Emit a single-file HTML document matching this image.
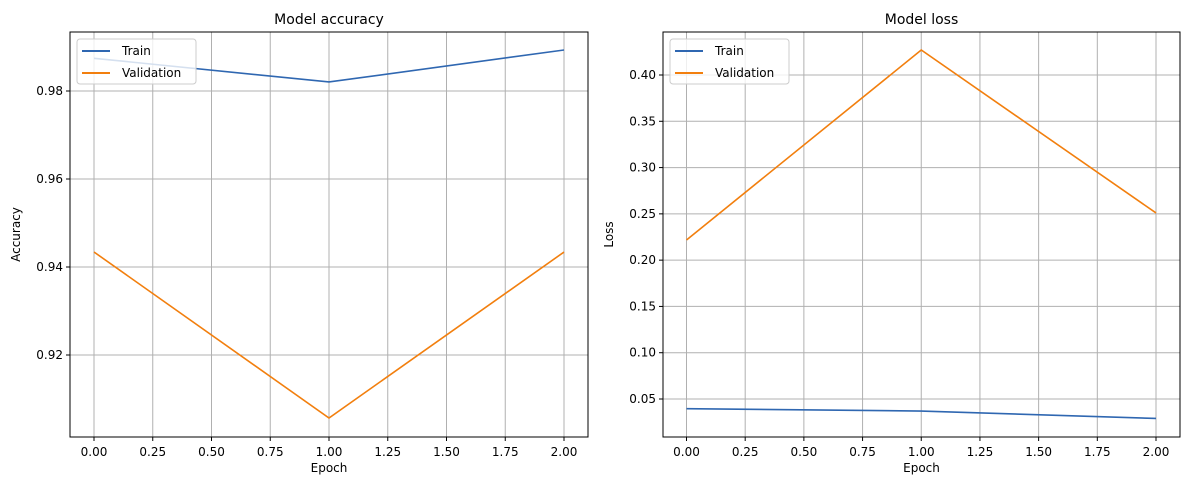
<!DOCTYPE html>
<html><head><meta charset="utf-8"><style>
body{margin:0;background:#fff}
svg text{font-family:"DejaVu Sans","Liberation Sans",sans-serif;fill:#000}
</style></head><body>
<svg id="c" width="1188" height="490"></svg>
<script>
const epochs=[0,1,2];
const accTrain=[0.98743,0.98205,0.98932];
const accVal=[0.94341,0.90568,0.9434];
const lossTrain=[0.0395,0.037,0.029];
const lossVal=[0.2218,0.427,0.251];
const xTicks=[0,0.25,0.5,0.75,1,1.25,1.5,1.75,2];
const accTicks=[0.92,0.94,0.96,0.98];
const lossTicks=[0.05,0.10,0.15,0.20,0.25,0.30,0.35,0.40];
const NS="http://www.w3.org/2000/svg";
const svg=document.getElementById('c');
function el(t,a,p){const e=document.createElementNS(NS,t);for(const k in a)e.setAttribute(k,a[k]);(p||svg).appendChild(e);return e;}
function panel(o){
  const g=el('g',{});
  
  
  const X=v=>o.x0+(v-0)*(o.x2-o.x0)/2;
  const Y=o.Y;
  xTicks.forEach(t=>{
    const l=el('line',{x1:X(t),x2:X(t),y1:o.top,y2:o.bot,stroke:'#b0b0b0','stroke-width':1},g);
    
    el('line',{x1:X(t),x2:X(t),y1:o.bot,y2:o.bot+4,stroke:'#000'},g);
    const tx=el('text',{x:X(t),y:o.bot+19,'text-anchor':'middle','font-size':12},g);
    tx.textContent=t.toFixed(2);
    
  });
  o.yTicks.forEach(t=>{
    el('line',{x1:o.left,x2:o.right,y1:Y(t),y2:Y(t),stroke:'#b0b0b0'},g);
    el('line',{x1:o.left-4,x2:o.left,y1:Y(t),y2:Y(t),stroke:'#000'},g);
    const tx=el('text',{x:o.left-7,y:Y(t)+4,'text-anchor':'end','font-size':12},g);
    tx.textContent=t.toFixed(2);
    
  });
  [[o.tr,'#2f67b1','train-line'],[o.va,'#f27f0e','validation-line']].forEach(([d,c,n])=>{
    const p=el('polyline',{points:epochs.map((e,i)=>X(e)+','+Y(d[i])).join(' '),fill:'none',stroke:c,'stroke-width':1.6},g);
    
  });
  el('rect',{x:o.left,y:o.top,width:o.right-o.left,height:o.bot-o.top,fill:'none',stroke:'#000','stroke-width':1},g);
  const ti=el('text',{x:(o.left+o.right)/2,y:o.top-8,'text-anchor':'middle','font-size':14},g);
  ti.textContent=o.title;
  const xl=el('text',{x:(o.left+o.right)/2,y:o.bot+35,'text-anchor':'middle','font-size':12},g);
  xl.textContent='Epoch';
  const yl=el('text',{x:0,y:0,'text-anchor':'middle','font-size':12,transform:`translate(${o.ylx},${(o.top+o.bot)/2}) rotate(-90)`},g);
  yl.textContent=o.ylabel;
  const lg=el('g',{},g);
  el('rect',{x:o.left+7,y:o.top+7,width:119,height:45,rx:3,fill:'#fff','fill-opacity':0.8,stroke:'#ccc'},lg);
  [['Train','#2f67b1'],['Validation','#f27f0e']].forEach(([t,c],i)=>{
    const yy=o.top+19+i*22;
    el('line',{x1:o.left+12,x2:o.left+40,y1:yy,y2:yy,stroke:c,'stroke-width':2},lg);
    const tx=el('text',{x:o.left+52,y:yy+4,'font-size':12},lg);tx.textContent=t;
    
  });
}
panel({name:'accuracy-panel',left:70,right:588,top:32,bot:437,x0:94,x2:564,Y:v=>91+(0.98-v)*4400,yTicks:accTicks,tr:accTrain,va:accVal,title:'Model accuracy',ylabel:'Accuracy',ylx:20});
panel({name:'loss-panel',left:663,right:1180,top:32,bot:437,x0:686.5,x2:1156,Y:v=>399-(v-0.05)*925.7,yTicks:lossTicks,tr:lossTrain,va:lossVal,title:'Model loss',ylabel:'Loss',ylx:613});
</script>
</body></html>
